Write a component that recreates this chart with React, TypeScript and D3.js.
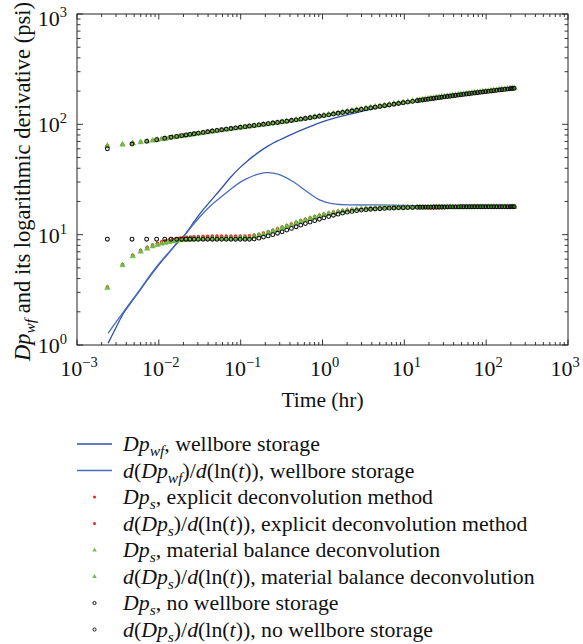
import React from 'react';
import * as d3 from 'd3';

// sample times (hr)
const tEarlyDecon = [0.00235, 0.0036, 0.0048, 0.006, 0.0072, 0.0084, 0.0096, 0.0108, 0.012, 0.0133,
  0.0147, 0.0163, 0.018, 0.0199, 0.022, 0.0243, 0.0269, 0.0304];
const tEarlyNoWbs = [0.00235, 0.0047, 0.0071, 0.0094, 0.0118, 0.0141, 0.0165, 0.019, 0.0215, 0.024,
  0.027, 0.0304];
const tLater = [
  0.0347, 0.0395, 0.045, 0.0513, 0.0585, 0.0667, 0.076, 0.0867, 0.0988, 0.113,
  0.128, 0.146, 0.167, 0.19, 0.217, 0.247, 0.282, 0.321, 0.366, 0.417,
  0.476, 0.542, 0.618, 0.705, 0.804, 0.916, 1.04, 1.19, 1.36, 1.55,
  1.76, 2.01, 2.29, 2.61, 2.98, 3.4, 3.87, 4.41, 5.03, 5.74,
  6.54, 7.46, 8.5, 9.69, 11.0, 12.6, 14.4,
  15.5, 16.8, 18.1, 19.5, 21.1, 22.8, 24.6, 26.6, 28.7, 31.0,
  33.5, 36.2, 39.1, 42.2, 45.6, 49.2, 53.2, 57.4, 62.0, 67.0,
  72.3, 78.1, 84.4, 91.1, 98.4, 106, 115, 124, 134, 145,
  156, 169, 182, 196, 208, 220];
const tDecon = [...tEarlyDecon, ...tLater];
const tNoWbs = [...tEarlyNoWbs, ...tLater];

// explicit deconvolution (psi)
const pExplicit = [
  64.3, 66.0, 67.7, 69.3, 70.6, 71.8, 73.0, 74.0, 74.9, 75.8,
  76.8, 77.7, 78.6, 79.5, 80.4, 81.4, 82.3, 83.5,
  84.7, 85.9, 87.1, 88.3, 89.5, 90.7, 91.9, 93.1, 94.3, 95.5,
  96.7, 98.0, 99.3, 100.6, 101.9, 103.3, 104.7, 106.2, 107.7, 109.3,
  111.0, 112.6, 114.3, 116.1, 118.0, 119.9, 121.8, 123.8, 125.8, 127.9,
  130.0, 132.2, 134.4, 136.6, 138.8, 141.1, 143.4, 145.6, 147.9, 150.2,
  152.6, 154.9, 157.2, 159.5, 161.8, 164.1, 166.4,
  167.7, 169.1, 170.4, 171.8, 173.2, 174.6, 175.9, 177.3, 178.7, 180.0,
  181.4, 182.8, 184.1, 185.5, 186.9, 188.2, 189.6, 191.0, 192.3, 193.7,
  195.1, 196.4, 197.8, 199.2, 200.6, 201.9, 203.3, 204.7, 206.0, 207.4,
  208.7, 210.1, 211.4, 212.7, 213.8, 214.8];
const dExplicit = [
  3.35, 5.35, 6.5, 7.2, 7.7, 8.05, 8.35, 8.6, 8.8, 8.95,
  9.1, 9.2, 9.3, 9.4, 9.45, 9.5, 9.55, 9.6,
  9.65, 9.65, 9.7, 9.7, 9.7, 9.7, 9.7, 9.7, 9.7, 9.7,
  9.75, 9.9, 10.1, 10.35, 10.6, 10.95, 11.3, 11.7, 12.1, 12.5,
  12.95, 13.4, 13.8, 14.2, 14.6, 15.0, 15.35, 15.7, 16.0, 16.25,
  16.5, 16.7, 16.9, 17.05, 17.2, 17.35, 17.45, 17.55, 17.6, 17.7,
  17.7, 17.75, 17.75, 17.8, 17.8, 17.8, 17.8,
  17.8, 17.7, 17.6, 17.5, 17.45, 17.45, 17.5, 17.5, 17.55, 17.6,
  17.65, 17.7, 17.75, 17.8, 17.85, 17.85, 17.9, 17.9, 17.9, 17.9,
  17.9, 17.9, 17.9, 17.9, 17.9, 17.9, 17.9, 17.9, 17.9, 17.9,
  17.9, 17.9, 17.9, 17.9, 17.9, 17.9];

// material balance deconvolution (psi)
const pMatBal = [
  64.0, 65.8, 67.5, 69.0, 70.3, 71.5, 72.6, 73.5, 74.4, 75.3,
  76.2, 77.1, 77.9, 78.8, 79.7, 80.6, 81.5, 82.6,
  83.8, 85.0, 86.2, 87.4, 88.6, 89.8, 91.0, 92.2, 93.4, 94.6,
  95.8, 97.1, 98.4, 99.7, 101.0, 102.4, 103.8, 105.3, 106.8, 108.4,
  110.1, 111.8, 113.5, 115.3, 117.2, 119.1, 121.1, 123.1, 125.1, 127.2,
  129.3, 131.5, 133.7, 135.9, 138.1, 140.4, 142.7, 144.9, 147.2, 149.5,
  151.9, 154.2, 156.5, 158.8, 161.1, 163.5, 165.8,
  167.1, 168.5, 169.8, 171.2, 172.6, 174.0, 175.3, 176.7, 178.1, 179.4,
  180.8, 182.2, 183.5, 184.9, 186.3, 187.6, 189.0, 190.4, 191.7, 193.1,
  194.5, 195.8, 197.2, 198.6, 200.0, 201.3, 202.7, 204.1, 205.4, 206.8,
  208.1, 209.5, 210.8, 212.1, 213.2, 214.2];
const dMatBal = [
  3.3, 5.3, 6.4, 7.05, 7.5, 7.85, 8.1, 8.3, 8.45, 8.6,
  8.7, 8.8, 8.9, 8.95, 9.0, 9.05, 9.1, 9.15,
  9.2, 9.2, 9.2, 9.25, 9.25, 9.25, 9.25, 9.3, 9.3, 9.3,
  9.4, 9.6, 9.85, 10.1, 10.4, 10.75, 11.1, 11.5, 11.9, 12.3,
  12.8, 13.2, 13.6, 14.0, 14.4, 14.8, 15.15, 15.5, 15.8, 16.1,
  16.35, 16.6, 16.8, 17.0, 17.15, 17.3, 17.4, 17.5, 17.6, 17.65,
  17.7, 17.7, 17.75, 17.75, 17.8, 17.8, 17.8,
  17.8, 17.8, 17.8, 17.8, 17.8, 17.8, 17.8, 17.8, 17.8, 17.8,
  17.85, 17.85, 17.85, 17.85, 17.85, 17.85, 17.85, 17.85, 17.85, 17.85,
  17.9, 17.9, 17.9, 17.9, 17.9, 17.9, 17.9, 17.9, 17.9, 17.9,
  17.9, 17.9, 17.9, 17.9, 17.9, 17.9];

// no wellbore storage (psi)
const pNoWbs = [
  60.0, 66.3, 70.1, 72.6, 74.7, 76.3, 77.7, 79.0, 80.1, 81.1,
  82.2, 83.3,
  84.5, 85.7, 86.9, 88.1, 89.3, 90.5, 91.7, 92.9, 94.1, 95.3,
  96.5, 97.7, 98.9, 100.1, 101.4, 102.7, 104.0, 105.4, 106.8, 108.3,
  109.8, 111.4, 113.0, 114.7, 116.4, 118.2, 120.0, 121.9, 123.9, 125.9,
  127.9, 130.0, 132.1, 134.2, 136.4, 138.6, 140.8, 143.0, 145.3, 147.6,
  149.8, 152.1, 154.4, 156.7, 159.0, 161.3, 163.6,
  164.9, 166.3, 167.6, 169.0, 170.4, 171.7, 173.1, 174.5, 175.8, 177.2,
  178.6, 179.9, 181.3, 182.7, 184.0, 185.4, 186.8, 188.1, 189.5, 190.9,
  192.2, 193.6, 195.0, 196.3, 197.7, 199.1, 200.4, 201.8, 203.2, 204.5,
  205.9, 207.3, 208.6, 210.0, 211.0, 212.0];
const dNoWbs = [
  9.1, 9.1, 9.1, 9.1, 9.1, 9.1, 9.1, 9.1, 9.1, 9.1,
  9.1, 9.1,
  9.1, 9.1, 9.1, 9.1, 9.1, 9.1, 9.1, 9.1, 9.1, 9.1,
  9.1, 9.15, 9.3, 9.5, 9.75, 10.0, 10.3, 10.6, 11.0, 11.4,
  11.8, 12.2, 12.6, 13.0, 13.4, 13.8, 14.2, 14.6, 15.0, 15.35,
  15.7, 16.0, 16.25, 16.5, 16.7, 16.85, 17.0, 17.1, 17.2, 17.3,
  17.4, 17.45, 17.5, 17.55, 17.6, 17.65, 17.7,
  17.7, 17.7, 17.75, 17.75, 17.75, 17.8, 17.8, 17.8, 17.8, 17.8,
  17.85, 17.85, 17.85, 17.85, 17.85, 17.9, 17.9, 17.9, 17.9, 17.9,
  17.9, 17.9, 17.9, 17.9, 17.9, 17.9, 17.9, 17.9, 17.9, 17.9,
  17.9, 17.9, 17.9, 17.9, 17.9, 17.9];

// wellbore storage curves
const tWbs = [0.0024, 0.003, 0.0037, 0.0045, 0.006, 0.008, 0.0104, 0.014, 0.018, 0.02,
  0.025, 0.032, 0.042, 0.056, 0.075, 0.098, 0.12, 0.143, 0.175, 0.208,
  0.25, 0.303, 0.44, 0.643, 0.935, 1.36, 2.39, 5.06, 10, 20,
  50, 100, 220];
const pWbs = [1.04, 1.44, 1.94, 2.39, 3.2, 4.3, 5.54, 7.17, 8.9, 9.6,
  12.1, 15.6, 19.8, 25.4, 33.0, 40.5, 46.3, 51.5, 57.5, 62.5,
  67.8, 72.5, 82.5, 92.8, 103.7, 113.3, 125.7, 143, 155.6, 168.3,
  185, 197.7, 212];
const dWbs = [1.28, 1.61, 2.0, 2.43, 3.25, 4.38, 5.62, 7.25, 8.98, 9.6,
  11.8, 14.6, 18.0, 21.6, 25.7, 29.8, 32.3, 34.2, 35.8, 36.5,
  36.2, 34.8, 30.2, 24.6, 20.6, 19.0, 18.6, 18.6, 18.4, 18.3,
  18.3, 18.3, 18.3];

const xExponents = [-3, -2, -1, 0, 1, 2, 3];
const yExponents = [0, 1, 2, 3];

const FONT = '"Liberation Serif", "Times New Roman", serif';
const RED = '#e8261c';
const GREEN = '#72bd45';
const BLUE1 = '#2f51a5';
const BLUE2 = '#4a6cbf';

type Part = { s: string; i?: boolean; sub?: boolean };

function Rich({ parts, subSize, shift }: { parts: Part[]; subSize: number; shift: number }) {
  let cur = 0;
  return (
    <>
      {parts.map((p, k) => {
        const target = p.sub ? shift : 0;
        const dy = target - cur;
        cur = target;
        return (
          <tspan key={k} dy={dy !== 0 ? dy : undefined}
            fontStyle={p.i ? 'italic' : undefined}
            fontSize={p.sub ? subSize : undefined}>{p.s}</tspan>
        );
      })}
    </>
  );
}

const dpParts = (sub: string, rest: string): Part[] => [
  { s: 'Dp', i: true }, { s: sub, i: true, sub: true }, { s: rest }];
const derivParts = (sub: string, rest: string): Part[] => [
  { s: 'd', i: true }, { s: '(' }, { s: 'Dp', i: true }, { s: sub, i: true, sub: true },
  { s: ')/' }, { s: 'd', i: true }, { s: '(ln(' }, { s: 't', i: true }, { s: '))' + rest }];

const legendItems: { kind: string; color: string; parts: Part[] }[] = [
  { kind: 'line', color: BLUE1, parts: dpParts('wf', ', wellbore storage') },
  { kind: 'line', color: BLUE2, parts: derivParts('wf', ', wellbore storage') },
  { kind: 'dot', color: RED, parts: dpParts('s', ', explicit deconvolution method') },
  { kind: 'dot', color: RED, parts: derivParts('s', ', explicit deconvolution method') },
  { kind: 'tri', color: GREEN, parts: dpParts('s', ', material balance deconvolution') },
  { kind: 'tri', color: GREEN, parts: derivParts('s', ', material balance deconvolution') },
  { kind: 'circ', color: '#111', parts: dpParts('s', ', no wellbore storage') },
  { kind: 'circ', color: '#111', parts: derivParts('s', ', no wellbore storage') },
];

const triPath = (s: number) => `M0,${-s * 0.62}L${s * 0.55},${s * 0.35}L${-s * 0.55},${s * 0.35}Z`;

export default function App() {
  const left = 77, right = 568, top = 14, bottom = 345;
  const x = d3.scaleLog().domain([1e-3, 1e3]).range([left, right]);
  const y = d3.scaleLog().domain([1, 1e3]).range([bottom, top]);

  const line = d3.line<[number, number]>()
    .x(d => x(d[0]))
    .y(d => y(d[1]))
    .curve(d3.curveCatmullRom.alpha(0.5));

  const zip = (ts: number[], vs: number[]) =>
    ts.slice(0, Math.min(ts.length, vs.length)).map((t, i) => [t, vs[i]] as [number, number]);

  const isMajor = (v: number) => Math.abs(Math.log10(v) - Math.round(Math.log10(v))) < 1e-6;
  const xTicks = x.ticks();
  const yTicks = y.ticks();

  const redPts = [...zip(tDecon, pExplicit), ...zip(tDecon, dExplicit)];
  const greenPts = [...zip(tDecon, pMatBal), ...zip(tDecon, dMatBal)];
  const blackPts = [...zip(tNoWbs, pNoWbs), ...zip(tNoWbs, dNoWbs)];

  return (
    <svg width={583} height={644} style={{ position: 'absolute', left: 0, top: 0, background: '#fff' }}
      fontFamily={FONT}>
      {/* curves */}
      <path d={line(zip(tWbs, pWbs)) || ''} fill="none" stroke={BLUE1} strokeWidth={1.3} />
      <path d={line(zip(tWbs, dWbs)) || ''} fill="none" stroke={BLUE2} strokeWidth={1.3} />

      {redPts.map((d, i) => (
        <circle key={'r' + i} cx={x(d[0])} cy={y(d[1])} r={1.8} fill={RED} />
      ))}
      {greenPts.map((d, i) => (
        <path key={'g' + i} d={triPath(5)} transform={`translate(${x(d[0])},${y(d[1])})`}
          fill={GREEN} stroke="#5fa83a" strokeWidth={0.4} />
      ))}
      {blackPts.map((d, i) => (
        <circle key={'b' + i} cx={x(d[0])} cy={y(d[1])} r={1.9} fill="none" stroke="#111" strokeWidth={1.1} />
      ))}

      {/* frame and ticks */}
      <rect x={left} y={top} width={right - left} height={bottom - top} fill="none" stroke="#222" strokeWidth={1} />
      {xTicks.map((t, i) => {
        const len = isMajor(t) ? 5.5 : 3;
        const xx = x(t);
        return (
          <g key={'xt' + i} stroke="#222" strokeWidth={0.9}>
            <line x1={xx} x2={xx} y1={bottom} y2={bottom - len} />
            <line x1={xx} x2={xx} y1={top} y2={top + len} />
          </g>
        );
      })}
      {yTicks.map((t, i) => {
        const len = isMajor(t) ? 6 : 3.5;
        const yy = y(t);
        return (
          <g key={'yt' + i} stroke="#222" strokeWidth={0.9}>
            <line x1={left} x2={left + len} y1={yy} y2={yy} />
            <line x1={right} x2={right - len} y1={yy} y2={yy} />
          </g>
        );
      })}

      {/* tick labels */}
      {xExponents.map(e => (
        <text key={'xl' + e} x={e === 3 ? 565 : x(Math.pow(10, e)) + 2} y={376} fontSize={22}
          textAnchor="middle" fill="#111">
          <tspan>10</tspan>
          <tspan fontSize={14.5} dy={-9}>{e < 0 ? '\u2212' + Math.abs(e) : String(e)}</tspan>
        </text>
      ))}
      {yExponents.map(e => (
        <text key={'yl' + e} x={67} y={y(Math.pow(10, e)) + (e === 3 ? 12 : 8)} fontSize={22} textAnchor="end" fill="#111">
          <tspan>10</tspan>
          <tspan fontSize={14.5} dy={-9}>{String(e)}</tspan>
        </text>
      ))}

      {/* axis titles */}
      <text x={(left + right) / 2} y={407} fontSize={21.5} textAnchor="middle" fill="#111">Time (hr)</text>
      <text transform={`translate(30,${(top + bottom) / 2 + 2}) rotate(-90)`} fontSize={22.5}
        textAnchor="middle" fill="#111">
        <Rich parts={dpParts('wf', ' and its logarithmic derivative (psi)')} subSize={15.5} shift={5} />
      </text>

      {/* legend */}
      {legendItems.map((it, k) => {
        const cy = 444 + k * 26.5;
        return (
          <g key={'lg' + k}>
            {it.kind === 'line' && <line x1={77} x2={112} y1={cy} y2={cy} stroke={it.color} strokeWidth={1.3} />}
            {it.kind === 'dot' && <circle cx={94.5} cy={cy} r={1.5} fill={it.color} />}
            {it.kind === 'tri' && <path d={triPath(4)} transform={`translate(94.5,${cy})`} fill={it.color} />}
            {it.kind === 'circ' && <circle cx={94.5} cy={cy} r={1.6} fill="none" stroke={it.color} strokeWidth={1} />}
            <text x={123} y={cy + 7} fontSize={21.8} fill="#111">
              <Rich parts={it.parts} subSize={15.5} shift={5} />
            </text>
          </g>
        );
      })}
    </svg>
  );
}
